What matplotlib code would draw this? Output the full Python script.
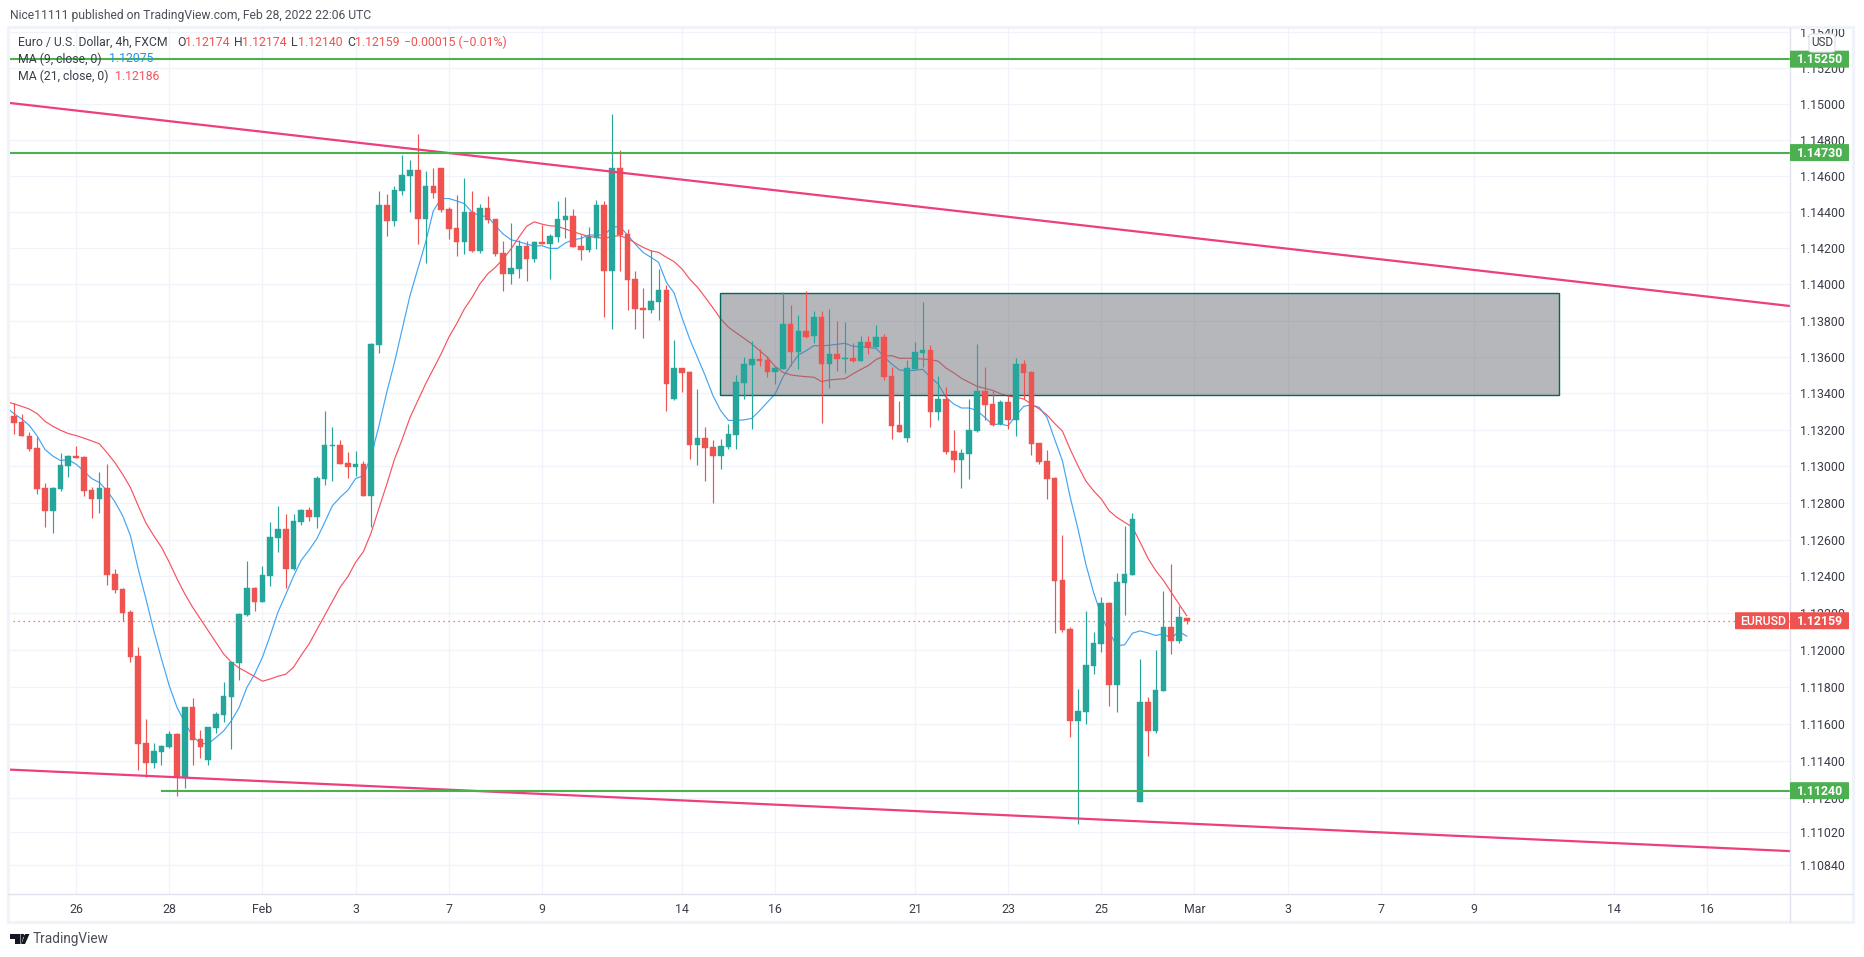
import numpy as np
import matplotlib
matplotlib.use("Agg")
import matplotlib.pyplot as plt
from matplotlib.patches import Rectangle, FancyBboxPatch, Polygon
from matplotlib.ticker import NullLocator, NullFormatter

plt.rcParams['font.family'] = ['Roboto', 'DejaVu Sans']

W, H = 1864, 957

# --- velas 4h EURUSD ---
opens = [1.13278,1.13245,1.13169,1.13099,1.12881,1.12756,1.12876,1.13001,1.13055,1.13050,
         1.12870,1.12822,1.12881,1.12414,1.12332,1.12207,1.11968,1.11495,1.11387,1.11447,
         1.11474,1.11544,1.11316,1.11691,1.11517,1.11408,1.11577,1.11648,1.11745,1.11930,
         1.12191,1.12338,1.12262,1.12403,1.12607,1.12659,1.12438,1.12697,1.12763,1.12725,
         1.12929,1.13110,1.13116,1.13017,1.12995,1.13011,1.12840,1.13667,1.14438,1.14350,
         1.14515,1.14598,1.14631,1.14361,1.14543,1.14647,1.14416,1.14311,1.14234,1.14400,
         1.14185,1.14422,1.14361,1.14174,1.14058,1.14086,1.14212,1.14141,1.14234,1.14223,
         1.14262,1.14355,1.14378,1.14212,1.14190,1.14256,1.14438,1.14075,1.14647,1.14278,
         1.14030,1.13871,1.13860,1.13904,1.13970,1.13369,1.13540,1.13518,1.13116,1.13154,
         1.13105,1.13055,1.13105,1.13171,1.13457,1.13557,1.13590,1.13584,1.13518,1.13535,
         1.13783,1.13628,1.13743,1.13716,1.13820,1.13562,1.13617,1.13590,1.13595,1.13579,
         1.13683,1.13655,1.13710,1.13496,1.13227,1.13155,1.13535,1.13622,1.13639,1.13298,
         1.13370,1.13084,1.13035,1.13068,1.13194,1.13414,1.13342,1.13232,1.13353,1.13254,
         1.13562,1.13518,1.13128,1.13029,1.12936,1.12381,1.12115,1.11615,1.11664,1.11914,
         1.12033,1.12256,1.11811,1.12365,1.12408,1.11180,1.11718,1.11561,1.11778,1.12126,1.12050,1.12174]
highs = [1.13347,1.13289,1.13186,1.13162,1.12912,1.12890,1.13072,1.13061,1.13110,1.13055,
         1.12887,1.12968,1.13012,1.12441,1.12338,1.12218,1.12017,1.11626,1.11495,1.11485,
         1.11561,1.11550,1.11691,1.11740,1.11566,1.11582,1.11664,1.11827,1.11936,1.12202,
         1.12485,1.12343,1.12457,1.12697,1.12785,1.12741,1.12741,1.12769,1.12780,1.12945,
         1.13303,1.13215,1.13143,1.13077,1.13083,1.13028,1.13678,1.14515,1.14499,1.14543,
         1.14719,1.14686,1.14835,1.14625,1.14642,1.14647,1.14427,1.14493,1.14587,1.14515,
         1.14444,1.14488,1.14361,1.14240,1.14339,1.14245,1.14240,1.14240,1.14328,1.14278,
         1.14460,1.14482,1.14416,1.14273,1.14317,1.14466,1.14460,1.14945,1.14747,1.14306,
         1.14075,1.13981,1.14190,1.14086,1.13997,1.13694,1.13540,1.13524,1.13424,1.13215,
         1.13143,1.13149,1.13232,1.13502,1.13601,1.13689,1.13645,1.13606,1.13551,1.13959,
         1.13887,1.13831,1.13963,1.13853,1.13853,1.13864,1.13798,1.13793,1.13677,1.13716,
         1.13716,1.13776,1.13727,1.13546,1.13359,1.13584,1.13683,1.13903,1.13666,1.13496,
         1.13436,1.13199,1.13095,1.13370,1.13672,1.13546,1.13414,1.13364,1.13392,1.13595,
         1.13584,1.13524,1.13128,1.13089,1.12941,1.12626,1.12126,1.11789,1.12213,1.12099,
         1.12289,1.12262,1.12419,1.12675,1.12745,1.11952,1.11745,1.12001,1.12322,1.12468,1.12240,1.12174]
lows = [1.13175,1.13164,1.13082,1.12849,1.12669,1.12637,1.12865,1.12941,1.13044,1.12838,
        1.12718,1.12745,1.12354,1.12311,1.12158,1.11936,1.11349,1.11316,1.11360,1.11381,
        1.11468,1.11213,1.11256,1.11381,1.11414,1.11381,1.11550,1.11610,1.11463,1.11838,
        1.12186,1.12213,1.12262,1.12349,1.12532,1.12339,1.12433,1.12681,1.12703,1.12664,
        1.12901,1.12923,1.13011,1.12934,1.12945,1.12840,1.12670,1.13623,1.14267,1.14322,
        1.14493,1.14400,1.14223,1.14119,1.14477,1.14400,1.14251,1.14157,1.14168,1.14179,
        1.14174,1.14339,1.14157,1.13964,1.14003,1.14036,1.14019,1.14124,1.14223,1.14030,
        1.14234,1.14256,1.14207,1.14135,1.14179,1.14196,1.13821,1.13755,1.14075,1.13860,
        1.13755,1.13705,1.13843,1.13805,1.13303,1.13364,1.13408,1.13039,1.13006,1.12918,
        1.12802,1.12984,1.13094,1.13094,1.13369,1.13204,1.13551,1.13490,1.13452,1.13535,
        1.13551,1.13535,1.13705,1.13677,1.13238,1.13430,1.13524,1.13513,1.13573,1.13579,
        1.13617,1.13655,1.13474,1.13150,1.13188,1.13134,1.13535,1.13546,1.13216,1.13254,
        1.13068,1.12969,1.12881,1.12930,1.13188,1.13254,1.13221,1.13227,1.13205,1.13166,
        1.13370,1.13062,1.13013,1.12820,1.12093,1.12099,1.11528,1.11061,1.11599,1.11870,
        1.11990,1.11697,1.11664,1.12191,1.12408,1.11180,1.11425,1.11550,1.11778,1.11979,1.12039,1.12140]
closes = [1.13240,1.13164,1.13093,1.12876,1.12756,1.12881,1.13006,1.13055,1.13044,1.12865,
          1.12822,1.12881,1.12408,1.12327,1.12202,1.11963,1.11490,1.11387,1.11452,1.11479,
          1.11544,1.11316,1.11691,1.11512,1.11474,1.11582,1.11653,1.11751,1.11936,1.12197,
          1.12338,1.12262,1.12408,1.12615,1.12659,1.12438,1.12703,1.12763,1.12725,1.12934,
          1.13116,1.13116,1.13011,1.12995,1.13011,1.12840,1.13672,1.14438,1.14350,1.14521,
          1.14603,1.14631,1.14361,1.14543,1.14504,1.14411,1.14306,1.14234,1.14400,1.14185,
          1.14422,1.14355,1.14168,1.14058,1.14091,1.14212,1.14141,1.14234,1.14223,1.14267,
          1.14361,1.14378,1.14207,1.14190,1.14262,1.14438,1.14075,1.14647,1.14273,1.14025,
          1.13865,1.13860,1.13909,1.13970,1.13452,1.13540,1.13513,1.13116,1.13154,1.13099,
          1.13055,1.13110,1.13176,1.13463,1.13562,1.13590,1.13579,1.13518,1.13540,1.13783,
          1.13628,1.13743,1.13710,1.13820,1.13562,1.13617,1.13590,1.13595,1.13579,1.13683,
          1.13655,1.13710,1.13491,1.13221,1.13188,1.13540,1.13628,1.13639,1.13298,1.13370,
          1.13079,1.13035,1.13073,1.13199,1.13414,1.13337,1.13227,1.13353,1.13254,1.13562,
          1.13513,1.13122,1.13024,1.12930,1.12376,1.12110,1.11615,1.11669,1.11919,1.12039,
          1.12256,1.11811,1.12370,1.12414,1.12713,1.11718,1.11561,1.11784,1.12126,1.12050,1.12180,1.12159]

# medias moviles, empiezan una vela antes de la primera
ma9 = [1.13325,1.13289,1.13260,1.13224,1.13166,1.13093,1.13057,1.13032,1.13037,1.13012,1.12975,
       1.12934,1.12912,1.12867,1.12807,1.12731,1.12622,1.12441,1.12278,1.12106,1.11952,
       1.11807,1.11689,1.11608,1.11535,1.11495,1.11492,1.11526,1.11562,1.11617,1.11689,
       1.11798,1.11870,1.11961,1.12079,1.12206,1.12302,1.12401,1.12488,1.12543,1.12605,
       1.12693,1.12785,1.12831,1.12870,1.12934,1.12949,1.13057,1.13222,1.13406,1.13571,
       1.13755,1.13939,1.14086,1.14232,1.14407,1.14475,1.14475,1.14462,1.14447,1.14398,
       1.14379,1.14376,1.14324,1.14278,1.14247,1.14236,1.14223,1.14212,1.14214,1.14199,
       1.14199,1.14229,1.14247,1.14254,1.14273,1.14273,1.14273,1.14315,1.14321,1.14273,
       1.14223,1.14177,1.14150,1.14122,1.14012,1.13953,1.13819,1.13700,1.13599,1.13498,
       1.13388,1.13305,1.13252,1.13252,1.13255,1.13263,1.13305,1.13351,1.13397,1.13489,
       1.13553,1.13611,1.13635,1.13663,1.13661,1.13665,1.13670,1.13676,1.13659,1.13657,
       1.13652,1.13648,1.13604,1.13562,1.13529,1.13525,1.13527,1.13533,1.13489,1.13452,
       1.13379,1.13342,1.13320,1.13320,1.13306,1.13269,1.13229,1.13232,1.13223,1.13278,
       1.13329,1.13337,1.13324,1.13269,1.13148,1.13030,1.12831,1.12658,1.12468,1.12314,
       1.12187,1.12097,1.12024,1.12028,1.12091,1.12104,1.12093,1.12079,1.12088,1.12064,1.12101,1.12075]
ma21 = [1.13356,1.13343,1.13329,1.13314,1.13289,1.13247,1.13220,1.13198,1.13180,1.13169,1.13155,
        1.13140,1.13124,1.13075,1.13021,1.12957,1.12885,1.12785,1.12691,1.12622,1.12559,
        1.12477,1.12387,1.12305,1.12233,1.12169,1.12106,1.12043,1.11979,1.11934,1.11903,
        1.11880,1.11856,1.11831,1.11843,1.11858,1.11869,1.11907,1.11972,1.12033,1.12110,
        1.12187,1.12265,1.12341,1.12399,1.12477,1.12535,1.12638,1.12772,1.12901,1.13039,
        1.13149,1.13268,1.13360,1.13452,1.13535,1.13617,1.13709,1.13783,1.13865,1.13929,
        1.14003,1.14058,1.14095,1.14141,1.14196,1.14260,1.14321,1.14346,1.14333,1.14324,
        1.14321,1.14306,1.14291,1.14278,1.14265,1.14260,1.14254,1.14265,1.14269,1.14254,
        1.14229,1.14205,1.14186,1.14177,1.14150,1.14126,1.14086,1.14030,1.13985,1.13929,
        1.13871,1.13810,1.13764,1.13733,1.13703,1.13672,1.13636,1.13599,1.13549,1.13516,
        1.13502,1.13496,1.13492,1.13489,1.13465,1.13474,1.13478,1.13481,1.13507,1.13531,
        1.13553,1.13586,1.13604,1.13608,1.13593,1.13593,1.13593,1.13589,1.13586,1.13577,
        1.13540,1.13513,1.13483,1.13461,1.13439,1.13428,1.13417,1.13399,1.13386,1.13379,
        1.13370,1.13342,1.13315,1.13282,1.13235,1.13193,1.13093,1.13003,1.12921,1.12867,
        1.12822,1.12758,1.12722,1.12695,1.12668,1.12586,1.12499,1.12432,1.12378,1.12314,1.12251,1.12186]

# lineas dibujadas a mano en el grafico
trend_x = [-0.76, 228.67]
trend_top = [1.15007, 1.13881]
trend_bottom = [1.11354, 1.10915]
level_prices = [1.15250, 1.14730, 1.11240]
level_starts = [-0.76, -0.76, 18.9]
box_x = [90.9, 198.9]
box_prices = [1.13392, 1.13950]
last_price = 1.12159

price_ticks = [1.154,1.152,1.15,1.148,1.146,1.144,1.142,1.14,1.138,1.136,1.134,1.132,1.13,
               1.128,1.126,1.124,1.122,1.12,1.118,1.116,1.114,1.112,1.1102,1.1084]
time_ticks = [8,20,32,44,56,68,86,98,116,128,140,152,164,176,188,206,218]
time_labels = ['26','28','Feb','3','7','9','14','16','21','23','25','Mar','3','7','9','14','16']

UP = '#26a69a'
DOWN = '#ef5350'
GREEN = '#4caf50'
PINK = '#ec3f7c'
GRID = '#f0f3fa'
TEXT = '#131722'


def fx(px):
    return px / W


def fy(py):
    return 1 - py / H


fig = plt.figure(figsize=(W / 100, H / 100), dpi=100, facecolor='white')
ax = fig.add_axes([fx(8), fy(894), fx(1790) - fx(8), fy(28) - fy(894)])
ax.set_yscale('log')
ax.set_xlim(-0.76, 228.67)
ax.set_ylim(1.10685, 1.15424)
ax.yaxis.set_minor_locator(NullLocator())
ax.yaxis.set_minor_formatter(NullFormatter())
ax.yaxis.tick_right()
ax.set_yticks(price_ticks)
ax.set_yticklabels(['%.5f' % p for p in price_ticks], fontsize=8.9, color='#3a3e49')
ax.set_xticks(time_ticks)
ax.set_xticklabels(time_labels, fontsize=8.9, color='#3a3e49')
ax.tick_params(axis='both', length=0)
ax.tick_params(axis='y', pad=7.5)
ax.tick_params(axis='x', pad=6.5)
ax.grid(True, color=GRID, lw=0.9)
ax.set_axisbelow(True)
for s in ax.spines.values():
    s.set_visible(False)

# --- medias, quedan debajo del rectangulo ---
ma_x = np.arange(-1, 152)
ax.plot(ma_x, ma9, color='#42a5f5', lw=0.85, zorder=2)
ax.plot(ma_x, ma21, color='#f7525f', lw=0.85, zorder=2)

# --- rectangulo ---
ax.add_patch(Rectangle((box_x[0], box_prices[0]), box_x[1] - box_x[0], box_prices[1] - box_prices[0],
                       fc=(0.435, 0.443, 0.475, 0.5), ec='#00695c', lw=1.0, zorder=3))

# --- velas ---
x = np.arange(len(opens))
o = np.array(opens)
c = np.array(closes)
colors = [UP if b >= a else DOWN for a, b in zip(opens, closes)]
ax.vlines(x, lows, highs, colors=colors, lw=0.85, zorder=4)
ax.bar(x, np.abs(c - o), bottom=np.minimum(o, c), width=0.72, color=colors,
       edgecolor=colors, lw=0.3, zorder=4)

ax.axhline(last_price, color=DOWN, lw=0.9, ls=(0, (1, 3)), zorder=4)

# --- lineas manuales ---
ax.plot(trend_x, trend_top, color=PINK, lw=1.6, zorder=5, solid_capstyle='butt')
ax.plot(trend_x, trend_bottom, color=PINK, lw=1.6, zorder=5, solid_capstyle='butt')
for p, start in zip(level_prices, level_starts):
    ax.plot([start, 228.67], [p, p], color=GREEN, lw=1.5, zorder=5, solid_capstyle='butt')

# --- marco ---
fig.add_artist(Rectangle((fx(8), fy(922)), fx(1853) - fx(8), fy(27) - fy(922), transform=fig.transFigure,
                         fc='none', ec=GRID, lw=2.2, zorder=1))
fig.add_artist(plt.Line2D([fx(1790), fx(1790)], [fy(28), fy(922)], color='#e0e3eb', lw=1.0, zorder=1))
fig.add_artist(plt.Line2D([fx(8), fx(1853)], [fy(894), fy(894)], color='#e0e3eb', lw=1.0, zorder=1))


def price_tag(price, txt, color, x0=1790, x1=1849, weight='bold'):
    yc = ax.transData.transform((0, price))[1]
    fig.add_artist(FancyBboxPatch((x0 / W, (yc - 8.5) / H), (x1 - x0) / W, 17 / H,
                                  boxstyle='round,pad=0,rounding_size=0.0005', transform=fig.transFigure,
                                  fc=color, ec='none', zorder=6))
    fig.text((x0 + x1) / 2 / W + 0.0004, (yc - 0.5) / H, txt, color='white', fontsize=8.9, weight=weight,
             ha='center', va='center', zorder=7)


for p in level_prices:
    price_tag(p, '%.5f' % p, GREEN)
price_tag(last_price, '1.12159', DOWN)
price_tag(last_price, 'EURUSD', DOWN, x0=1735, x1=1789, weight='medium')

# caja USD
fig.add_artist(FancyBboxPatch((fx(1809), fy(52)), 26 / W, 18 / H, boxstyle='round,pad=0,rounding_size=0.002',
                              transform=fig.transFigure, fc='white', ec='#e0e3eb', lw=0.9, zorder=6))
fig.text(fx(1822), fy(43), 'USD', fontsize=8.4, color='#3a3e49', ha='center', va='center', zorder=7)

# --- textos ---
fig.text(fx(10), fy(15.5), 'Nice11111 published on TradingView.com, Feb 28, 2022 22:06 UTC',
         fontsize=8.7, color='#4c4f58', va='center')


def legend_text(px, py, txt, color):
    fig.text(fx(px), fy(py), txt, fontsize=8.8, color=color, va='center', zorder=4)


legend_text(18, 42, 'Euro / U.S. Dollar, 4h, FXCM', '#3a3e49')
for px, lab, val_px, val in [(177, 'O', 185, '1.12174'), (234, 'H', 242.4, '1.12174'),
                             (291.4, 'L', 297.7, '1.12140'), (347, 'C', 354.7, '1.12159')]:
    legend_text(px, 42, lab, '#3a3e49')
    legend_text(val_px, 42, val, DOWN)
legend_text(403.7, 42, '\u22120.00015 (\u22120.01%)', DOWN)
legend_text(18, 59, 'MA (9, close, 0)', '#3a3e49')
legend_text(109.5, 59, '1.12075', '#2196f3')
legend_text(18, 76, 'MA (21, close, 0)', '#3a3e49')
legend_text(115.5, 76, '1.12186', '#f7525f')

# logo TradingView
logo = '#131722'
for pts in [[(10, 934), (20, 934), (20, 944), (15, 944), (15, 939), (10, 939)],
            [(20.5, 934), (24, 934), (21.5, 944), (20.5, 944)]]:
    fig.add_artist(Polygon([(fx(a), fy(b)) for a, b in pts], closed=True, transform=fig.transFigure,
                           fc=logo, ec='none'))
fig.add_artist(plt.Circle((fx(23.5), fy(936)), 1.9 / W, transform=fig.transFigure, fc=logo, ec='none'))
fig.add_artist(Polygon([(fx(a), fy(b)) for a, b in [(25, 934), (29.5, 934), (25, 944), (21.5, 944)]],
                       closed=True, transform=fig.transFigure, fc=logo, ec='none'))
fig.text(fx(33), fy(939.5), 'TradingView', fontsize=9.8, color='#4c4f58', va='center')

fig.savefig('out.png', dpi=100)
